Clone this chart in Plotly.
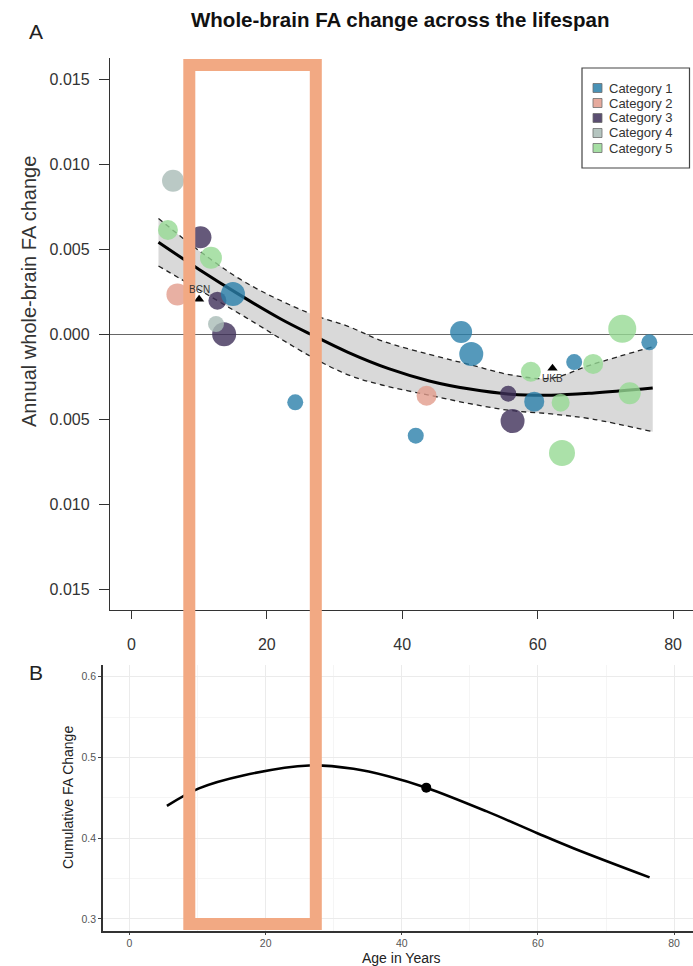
import plotly.graph_objects as go

# ---------------- data ----------------
categories = ["Category 1", "Category 2", "Category 3", "Category 4", "Category 5"]
cat_colors = ["#2A7FAA", "#E29C8C", "#3E3059", "#A9BCB6", "#96D994"]

cat1_age = [15.0, 24.2, 48.7, 50.2, 42.0, 59.5, 65.4, 76.5]
cat1_val = [0.00235, -0.00402, 0.00012, -0.00118, -0.00598, -0.00398, -0.00165, -0.00049]
cat1_size = [24, 16, 22, 24, 16, 20, 16, 16]

cat2_age = [6.8, 43.6]
cat2_val = [0.00233, -0.00363]
cat2_size = [22, 20]

cat3_age = [10.2, 12.7, 13.7, 55.65, 56.3]
cat3_val = [0.00569, 0.00196, -0.00002, -0.00351, -0.00512]
cat3_size = [22, 18, 24, 16, 24]

cat4_age = [6.15, 12.5]
cat4_val = [0.00902, 0.00059]
cat4_size = [22, 16]

cat5_age = [5.4, 11.75, 59.0, 63.4, 68.2, 72.5, 73.6, 63.6]
cat5_val = [0.00612, 0.00449, -0.00222, -0.00404, -0.00176, 0.00031, -0.00349, -0.00700]
cat5_size = [20, 22, 20, 18, 20, 28, 22, 26]

fit_age = [4, 10, 16, 22, 26.4, 32, 38, 44, 50, 56, 62, 68, 77]
fit_val = [0.0054, 0.0038, 0.0023, 0.0009, 0.0, -0.00108, -0.00204, -0.00276,
           -0.00324, -0.00354, -0.0036, -0.00348, -0.00318]

band_age = [4, 10, 17, 26.4, 32, 37, 44, 50, 56, 62, 68, 77]
band_upper = [0.0068, 0.0049, 0.0030, 0.0012, 0.00045, -0.0004, -0.0012, -0.0018,
              -0.0024, -0.0026, -0.0018, -0.00075]
band_lower = [0.0040, 0.0026, 0.00095, -0.0013, -0.0024, -0.0030, -0.0036, -0.0041,
              -0.0045, -0.0047, -0.0050, -0.00575]

ref_names = ["BCN", "UKB"]
ref_age = [10.0, 62.2]
ref_val = [0.00204, -0.00202]

y_ticks_a = [-0.015, -0.010, -0.005, 0.0, 0.005, 0.010, 0.015]
y_ticktext_a = ["0.015", "0.010", "0.005", "0.000", "0.005", "0.010", "0.015"]
x_ticks = [0, 20, 40, 60, 80]

cum_age = [5.5, 10.2, 16.7, 26.4, 32.9, 38.0, 43.6, 52.4, 60, 65.3, 76.4]
cum_val = [0.440, 0.4617, 0.4777, 0.4901, 0.4860, 0.4768, 0.4626, 0.4335, 0.4059, 0.3873, 0.3515]
marker_age = [43.6]
marker_val = [0.4626]
y_ticks_b = [0.3, 0.4, 0.5, 0.6]

# ---------------- figure ----------------
W, H = 693, 966
FONT = "Liberation Sans, Arial, sans-serif"


def px(x):
    return x / W


def py(y):
    return 1 - y / H


fig = go.Figure()

# confidence band
fig.add_trace(go.Scatter(x=band_age, y=band_lower, mode="lines", line=dict(color="#222", width=1.3, dash="5px,4px", shape="spline"),
                         showlegend=False, hoverinfo="skip", xaxis="x", yaxis="y"))
fig.add_trace(go.Scatter(x=band_age, y=band_upper, mode="lines", line=dict(color="#222", width=1.3, dash="5px,4px", shape="spline"),
                         fill="tonexty", fillcolor="#D9D9D9", showlegend=False, hoverinfo="skip", xaxis="x", yaxis="y"))
# fit line
fig.add_trace(go.Scatter(x=fit_age, y=fit_val, mode="lines", line=dict(color="#000", width=3, shape="spline"),
                         showlegend=False, xaxis="x", yaxis="y"))

# points, drawn in an order that reproduces overlaps
series = {
    "Category 3": (cat3_age, cat3_val, cat3_size, cat_colors[2]),
    "Category 4": (cat4_age, cat4_val, cat4_size, cat_colors[3]),
    "Category 2": (cat2_age, cat2_val, cat2_size, cat_colors[1]),
    "Category 1": (cat1_age, cat1_val, cat1_size, cat_colors[0]),
    "Category 5": (cat5_age, cat5_val, cat5_size, cat_colors[4]),
}
for name, (a, v, s, c) in series.items():
    fig.add_trace(go.Scatter(x=a, y=v, mode="markers", name=name,
                             marker=dict(color=c, size=s, opacity=0.8, line=dict(width=0)),
                             showlegend=False, xaxis="x", yaxis="y"))

# reference triangles
fig.add_trace(go.Scatter(x=ref_age, y=ref_val, mode="markers",
                         marker=dict(symbol="triangle-up", color="#000", size=9),
                         showlegend=False, xaxis="x", yaxis="y"))

# panel B
fig.add_trace(go.Scatter(x=cum_age, y=cum_val, mode="lines", line=dict(color="#000", width=2.6, shape="spline"),
                         showlegend=False, xaxis="x2", yaxis="y2"))
fig.add_trace(go.Scatter(x=marker_age, y=marker_val, mode="markers", marker=dict(color="#000", size=10),
                         showlegend=False, xaxis="x2", yaxis="y2"))

annotations = []
# labels of triangles
for nm, a, v, sh in zip(ref_names, ref_age, ref_val, [10, -10]):
    annotations.append(dict(x=a, y=v, xref="x", yref="y", text=nm, showarrow=False, yshift=sh,
                            font=dict(family=FONT, size=10, color="#333")))

# titles and panel letters
annotations += [
    dict(x=px(400), y=py(19), xref="paper", yref="paper", text="<b>Whole-brain FA change across the lifespan</b>",
         showarrow=False, font=dict(family=FONT, size=20.5, color="#111"), xanchor="center", yanchor="middle"),
    dict(x=px(36), y=py(32), xref="paper", yref="paper", text="A", showarrow=False,
         font=dict(family=FONT, size=21, color="#222"), xanchor="center", yanchor="middle"),
    dict(x=px(36), y=py(672), xref="paper", yref="paper", text="B", showarrow=False,
         font=dict(family=FONT, size=21, color="#222"), xanchor="center", yanchor="middle"),
    dict(x=px(29), y=py(292), xref="paper", yref="paper", text="Annual whole-brain FA change", textangle=-90,
         showarrow=False, font=dict(family=FONT, size=20, color="#333"), xanchor="center", yanchor="middle"),
    dict(x=px(68), y=py(798), xref="paper", yref="paper", text="Cumulative FA Change", textangle=-90,
         showarrow=False, font=dict(family=FONT, size=14, color="#222"), xanchor="center", yanchor="middle"),
    dict(x=px(401), y=py(958), xref="paper", yref="paper", text="Age in Years",
         showarrow=False, font=dict(family=FONT, size=14, color="#222"), xanchor="center", yanchor="middle"),
]

shapes = []
# manual legend (square keys, tight spacing)
shapes.append(dict(type="rect", xref="paper", yref="paper", x0=px(582), x1=px(689.5), y0=py(168), y1=py(68),
                   line=dict(color="#444", width=1.2), fillcolor="white", layer="above"))
legend_y = [88, 103, 118, 133, 148]
for cat, col, ly in zip(categories, cat_colors, legend_y):
    shapes.append(dict(type="rect", xref="paper", yref="paper", x0=px(593), x1=px(602), y0=py(ly + 4.5), y1=py(ly - 4.5),
                       line=dict(color="#555", width=0.8), fillcolor=col, opacity=0.85, layer="above"))
    annotations.append(dict(x=px(607), y=py(ly), xref="paper", yref="paper", text=cat, showarrow=False,
                            xanchor="left", yanchor="middle", font=dict(family=FONT, size=13, color="#333")))

# orange highlight box
shapes.append(dict(type="rect", xref="paper", yref="paper", x0=px(189.3), x1=px(315.8), y0=py(924), y1=py(65),
                   line=dict(color="#F2A983", width=12), fillcolor="rgba(0,0,0,0)", layer="above"))

fig.update_layout(
    width=W, height=H, margin=dict(l=0, r=0, t=0, b=0),
    paper_bgcolor="white", plot_bgcolor="white",
    font=dict(family=FONT, color="#333"),
    showlegend=False,
    annotations=annotations, shapes=shapes,
    xaxis=dict(domain=[px(110), 1], range=[-3.16, 82.95], tickvals=x_ticks, ticks="outside", ticklen=8,
               tickcolor="#333", showline=True, linecolor="#333", linewidth=1.3, showgrid=False, zeroline=False,
               tickfont=dict(size=16, color="#333"), ticklabelstandoff=12, anchor="y"),
    yaxis=dict(domain=[py(610), py(58)], range=[-0.016235, 0.016235], tickvals=y_ticks_a, ticktext=y_ticktext_a,
               ticks="outside", ticklen=10, tickcolor="#333", showline=True, linecolor="#333", linewidth=1.3,
               showgrid=False, zeroline=True, zerolinecolor="#666", zerolinewidth=1.2,
               tickfont=dict(size=16, color="#333"), ticklabelstandoff=6, anchor="x"),
    xaxis2=dict(domain=[px(103), 1], range=[-3.89, 82.78], tickvals=x_ticks, ticks="outside", ticklen=2,
                tickcolor="#444", showline=True, linecolor="#333", linewidth=1.5, showgrid=True, gridcolor="#EBEBEB",
                minor=dict(dtick=10, showgrid=True, gridcolor="#F5F5F5"), zeroline=False,
                tickfont=dict(size=10.5, color="#555"), anchor="y2"),
    yaxis2=dict(domain=[py(931), py(665)], range=[0.2851, 0.6145], tickvals=y_ticks_b, ticks="outside", ticklen=3,
                tickcolor="#444", showline=True, linecolor="#333", linewidth=1.5, showgrid=True, gridcolor="#EBEBEB",
                minor=dict(tickvals=[0.35, 0.45, 0.55], showgrid=True, gridcolor="#F5F5F5"), zeroline=False,
                tickfont=dict(size=10.5, color="#555"), anchor="x2"),
)

fig.write_html("out.html")
